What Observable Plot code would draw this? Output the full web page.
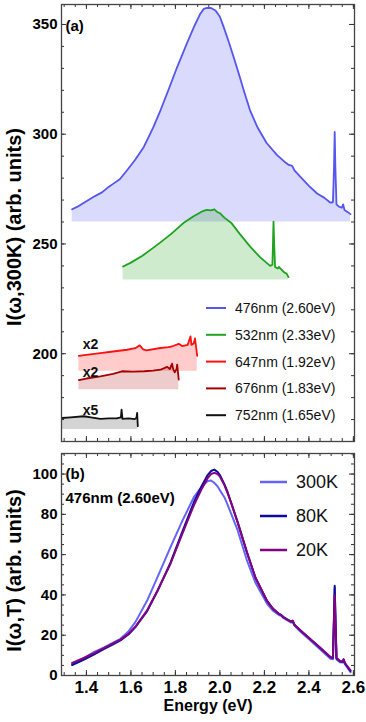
<!DOCTYPE html>
<html><head><meta charset="utf-8">
<script src="https://cdn.jsdelivr.net/npm/d3@7"></script>
<script src="https://cdn.jsdelivr.net/npm/@observablehq/plot@0.6"></script>
<style>
body{margin:0;background:#fff;}
#chart svg{display:block;}
</style>
</head><body><div id="chart"></div>
<script>
// ---------- Panel (a) data ----------
const e476 = [1.336,1.36,1.40,1.433,1.47,1.50,1.523,1.55,1.583,1.62,1.658,1.70,1.733,1.77,1.808,1.85,1.883,1.91,1.927,1.943,1.96,1.98,2.00,2.017,2.04,2.062,2.085,2.107,2.135,2.168,2.21,2.257,2.29,2.31,2.325,2.335,2.362,2.40,2.437,2.47,2.497,2.508,2.513,2.516,2.519,2.524,2.535,2.548,2.554,2.56,2.575,2.587];
const v476 = [265.8,267,269.5,271.5,273.5,276,277.6,279.5,283.6,288.5,294.2,303,310.9,320.5,330.6,341,348.8,354.5,357.1,357.6,357.5,356.4,353.5,348.8,342,335.1,327.5,320,311,303.3,296,290.5,287.5,286,285.6,283.5,280.6,276.5,273,271,268.8,269,285,301,285,268,267,266.5,268,265.5,264.5,263.6];
const e532 = [1.565,1.60,1.65,1.688,1.73,1.78,1.836,1.88,1.92,1.941,1.96,1.975,1.986,2.00,2.02,2.053,2.09,2.136,2.18,2.226,2.236,2.239,2.241,2.244,2.248,2.26,2.265,2.278,2.29,2.30,2.308];
const v532 = [239.7,241.5,244.5,247.3,250.5,254.5,259.5,262.5,264.8,265.5,265.3,265.8,264.7,264,262,259.4,254.5,248.8,244,240,240.5,252,260.2,250,239.5,238.8,239.5,238.2,237,236.5,234.9];
const e647 = [1.366,1.40,1.463,1.52,1.583,1.62,1.64,1.655,1.67,1.733,1.77,1.79,1.815,1.83,1.855,1.868,1.872,1.883,1.888,1.893,1.898];
const v647 = [199,199.5,200.3,201,201.8,202.5,203.8,202,201.5,202.6,203,203.5,204.5,203.5,204,207.9,204,204.8,207,203,199];
const e676 = [1.366,1.40,1.463,1.52,1.56,1.61,1.66,1.70,1.733,1.763,1.775,1.785,1.79,1.797,1.805,1.808,1.812,1.815];
const v676 = [188,188.7,189.7,190.8,192,191.8,192,192.3,192.7,194,193,195.5,193,191.5,193,195,191,188.2];
const e752 = [1.29,1.33,1.388,1.42,1.463,1.50,1.54,1.555,1.558,1.562,1.59,1.617,1.625,1.628,1.631];
const v752 = [170.7,171,171.5,171,170.3,170.5,170.6,171,174.5,170.3,170.5,170.2,170.8,173,167];
const seriesNamesA = ["476nm (2.60eV)","532nm (2.33eV)","647nm (1.92eV)","676nm (1.83eV)","752nm (1.65eV)"];
const seriesColorsA = ["#5555f0","#1fa31f","#ff1010","#a80000","#111111"];
const baselinesA = [260, 233.6, 192, 183.6, 165.5];
const fillOpacityA = [0.22, 0.22, 0.22, 0.2, 0.18];
const scaleLabels = ["x2","x2","x5"];
const scaleLabelE = [1.418,1.418,1.418];
const scaleLabelV = [204,191.4,174];

// ---------- Panel (b) data ----------
const eB = [1.336,1.38,1.433,1.48,1.52,1.553,1.59,1.62,1.673,1.72,1.778,1.83,1.883,1.92,1.945,1.96,1.975,1.99,2.0,2.02,2.033,2.05,2.08,2.122,2.16,2.212,2.24,2.265,2.275,2.285,2.30,2.32,2.327,2.335,2.36,2.407,2.45,2.497,2.508,2.512,2.516,2.52,2.524,2.54,2.552,2.556,2.562,2.587];
const v300K = [5.8,8,11.6,14,16.3,18.2,22,26.5,37.2,49,63.7,76.5,88.5,94,96.5,96.8,95.6,93.8,92,88.5,85.2,80.5,72,57,46,35.6,32,30,29.6,28.6,27.6,26.3,26.6,24.8,22,17.4,13,8.3,8,25,43.5,25,8,6.6,6.4,7.6,5.6,1.7];
const v80K = [5.2,7.4,10.4,13.2,15.5,17.4,20.5,24,32,42,56,71,86,94.5,99.5,101.5,102.2,101,99.5,95,91.5,86,76,61,48.5,37,33,30.6,30.1,29,28,26.8,27.2,25.2,22.6,18,13.8,9,8.7,26,44.5,26,8.6,7,6.8,8,6,2.3];
const v20K = [6.3,8.3,11,13.7,15.9,17.8,20.8,24.2,32.3,42.3,55.5,70,84.5,93,98,100,100.6,100,98.8,94.5,91,85.8,76,61,48.5,37,33,30.6,30.1,29,28,26.8,27.2,25.2,22.6,18,13.9,9.2,8.9,24,40,24,8.8,7.2,7,8,6.2,2.6];
const tempNames = ["300K","80K","20K"];
const tempColors = ["#6464fa","#0c0c9c","#820282"];

// ---------- tick labels ----------
const xTicks = [1.4,1.6,1.8,2.0,2.2,2.4,2.6];
const yTicksA = [200,250,300,350];
const yTicksB = [0,20,40,60,80,100];

// ---------- layout ----------
const W = 366, ML = 61, MR = 12;
const FW = W - ML - MR;
const xDomain = [1.288, 2.605];
const font = "'Liberation Sans', Arial, Helvetica, sans-serif";

function zip(es, vs) { return es.map((e, i) => ({E: e, v: vs[i]})); }

function frameTicks(xMaj, xMin, yMaj, yMin, FH) {
  const a = 5, b = 3, st = {stroke: "#333", strokeWidth: 1};
  return [
    Plot.ruleX(xMaj, {x: d => d, insetTop: FH - a, ...st}),
    Plot.ruleX(xMaj, {x: d => d, insetBottom: FH - a, ...st}),
    Plot.ruleX(xMin, {x: d => d, insetTop: FH - b, ...st}),
    Plot.ruleX(xMin, {x: d => d, insetBottom: FH - b, ...st}),
    Plot.ruleY(yMaj, {y: d => d, insetRight: FW - a, ...st}),
    Plot.ruleY(yMaj, {y: d => d, insetLeft: FW - a, ...st}),
    Plot.ruleY(yMin, {y: d => d, insetRight: FW - b, ...st}),
    Plot.ruleY(yMin, {y: d => d, insetLeft: FW - b, ...st})
  ];
}
const xMinor = d3.range(1.30, 2.6001, 0.05).map(d => +d.toFixed(2));

// ---------- Panel (a) ----------
const HA = 447, MTA = 4, MBA = 6, FHA = HA - MTA - MBA;
const seriesA = [zip(e476, v476), zip(e532, v532), zip(e647, v647), zip(e676, v676), zip(e752, v752)];
const marksA = [];
seriesA.forEach((s, i) => {
  marksA.push(Plot.areaY(s, {x: "E", y1: baselinesA[i], y2: "v", fill: seriesColorsA[i], fillOpacity: fillOpacityA[i], curve: "linear"}));
});
seriesA.forEach((s, i) => {
  marksA.push(Plot.lineY(s, {x: "E", y: "v", stroke: seriesColorsA[i], strokeWidth: 1.8, curve: "linear"}));
});
marksA.push(
  Plot.text(scaleLabels, {x: (d, i) => scaleLabelE[i], y: (d, i) => scaleLabelV[i], text: d => d, fontSize: 14, fontWeight: "bold", fill: "#111"}),
  ...frameTicks(xTicks, xMinor, yTicksA, d3.range(160, 360, 10), FHA),
  Plot.frame({stroke: "#444", strokeWidth: 1.3}),
  Plot.axisY(yTicksA, {tickSize: 0, tickPadding: 4, fontSize: 15, fontWeight: "bold", label: null}),
  Plot.text(["(a)"], {frameAnchor: "top-left", dx: 4, dy: 16, textAnchor: "start", fontSize: 15, fontWeight: "bold"}),
  Plot.text(["I(ω,300K) (arb. units)"], {frameAnchor: "left", dx: -47, dy: 4, rotate: -90, textAnchor: "middle", fontSize: 20, fontWeight: "bold"})
);
const plotA = Plot.plot({
  width: W, height: HA, marginTop: MTA, marginBottom: MBA, marginLeft: ML, marginRight: MR,
  x: {domain: xDomain, axis: null},
  y: {domain: [160, 359.1], axis: null},
  style: {fontFamily: font, color: "#000", background: "#fff"},
  marks: marksA
});

// legend (a)
{
  const g = d3.select(plotA).append("g").attr("font-family", font).attr("text-anchor", "start");
  seriesNamesA.forEach((name, i) => {
    const y = 308 + i * 26.8;
    g.append("line").attr("x1", 206).attr("x2", 226).attr("y1", y).attr("y2", y)
      .attr("stroke", seriesColorsA[i]).attr("stroke-width", 2);
    g.append("text").attr("x", 235).attr("y", y).attr("dy", "0.35em").attr("text-anchor", "start")
      .attr("font-size", 14).attr("fill", "#111").text(name);
  });
}

// ---------- Panel (b) ----------
const HB = 275, MTB = 6, MBB = 47, FHB = HB - MTB - MBB;
const seriesB = [zip(eB, v300K), zip(eB, v80K), zip(eB, v20K)];
const marksB = [];
seriesB.forEach((s, i) => {
  marksB.push(Plot.lineY(s, {x: "E", y: "v", stroke: tempColors[i], strokeWidth: 2, curve: "linear"}));
});
marksB.push(
  ...frameTicks(xTicks, xMinor, yTicksB, d3.range(0, 111, 5), FHB),
  Plot.frame({stroke: "#444", strokeWidth: 1.3}),
  Plot.axisY(yTicksB, {tickSize: 0, tickPadding: 4, fontSize: 15, fontWeight: "bold", label: null}),
  Plot.axisX(xTicks, {tickSize: 0, tickPadding: 5, fontSize: 17, fontWeight: "bold", label: null, tickFormat: d => d.toFixed(1)}),
  Plot.text(["(b)"], {frameAnchor: "top-left", dx: 4, dy: 15, textAnchor: "start", fontSize: 15, fontWeight: "bold"}),
  Plot.text(["476nm (2.60eV)"], {frameAnchor: "top-left", dx: 4, dy: 39, textAnchor: "start", fontSize: 15, fontWeight: "bold"}),
  Plot.text(["I(ω,T) (arb. units)"], {frameAnchor: "left", dx: -47, dy: 6, rotate: -90, textAnchor: "middle", fontSize: 20, fontWeight: "bold"}),
  Plot.text(["Energy (eV)"], {frameAnchor: "bottom", dy: 35, fontSize: 16, fontWeight: "bold"})
);
const plotB = Plot.plot({
  width: W, height: HB, marginTop: MTB, marginBottom: MBB, marginLeft: ML, marginRight: MR,
  x: {domain: xDomain, axis: null},
  y: {domain: [0, 110.2], axis: null},
  style: {fontFamily: font, color: "#000", background: "#fff"},
  marks: marksB
});
{
  const g = d3.select(plotB).append("g").attr("font-family", font).attr("text-anchor", "start");
  tempNames.forEach((name, i) => {
    const y = 35 + i * 34;
    g.append("line").attr("x1", 260).attr("x2", 287).attr("y1", y).attr("y2", y)
      .attr("stroke", tempColors[i]).attr("stroke-width", 2.5);
    g.append("text").attr("x", 296).attr("y", y).attr("dy", "0.35em").attr("text-anchor", "start")
      .attr("font-size", 18).attr("fill", "#111").text(name);
  });
}

document.getElementById("chart").append(plotA, plotB);
</script>
</body></html>
